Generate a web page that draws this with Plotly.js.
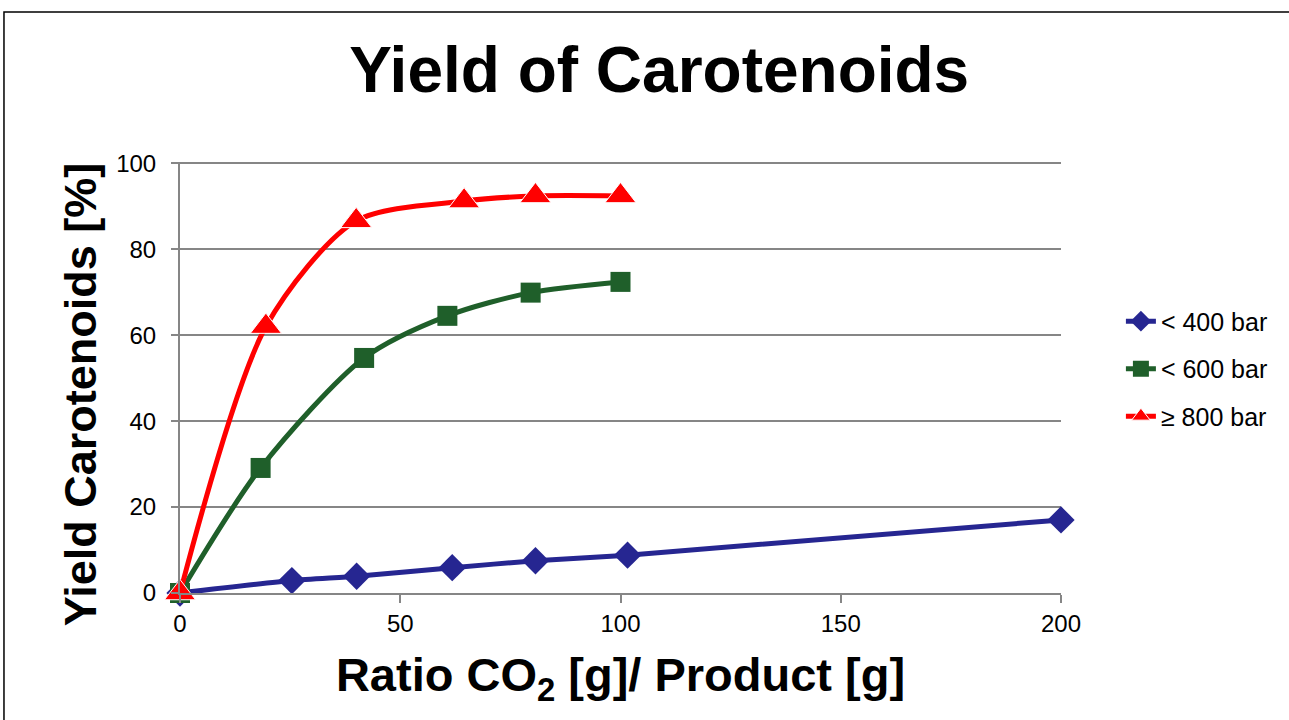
<!DOCTYPE html>
<html><head><meta charset="utf-8">
<script src="https://cdn.plot.ly/plotly-3.0.1.min.js"></script>
<style>html,body{margin:0;padding:0;background:#fff;}#chart{width:1289px;height:720px;}</style>
</head><body><div id="chart"></div>
<script>
const seriesNames = ["< 400 bar", "< 600 bar", "≥ 800 bar"];
const x400 = [0, 25.4, 40.1, 61.8, 80.7, 101.6, 200];
const y400 = [0, 2.9, 3.9, 5.9, 7.5, 8.8, 17.0];
const x600 = [0, 18.3, 41.8, 60.7, 79.6, 100];
const y600 = [0, 29.1, 54.7, 64.5, 69.9, 72.4];
const x800 = [0, 19.5, 40.0, 64.5, 80.7, 100];
const y800 = [0, 62.0, 86.6, 91.2, 92.4, 92.4];
const xTicks = [0, 50, 100, 150, 200];
const yTicks = [0, 20, 40, 60, 80, 100];
const xTitle = "<b>Ratio CO<sub>2</sub> [g]/ Product [g]</b>";
const yTitle = "<b>Yield Carotenoids [%]</b>";
const chartTitle = "<b>Yield of Carotenoids</b>";

const FONT = "Liberation Sans, Arial, sans-serif";
const traces = [
  {x: x400, y: y400, name: seriesNames[0], legendgroup: "a", mode: "lines+markers", cliponaxis: false,
   line: {color: "#262691", width: 5, shape: "spline", smoothing: 0.6},
   marker: {symbol: "diamond", size: 21, color: "#262691"}},
  {x: x600, y: y600, name: seriesNames[1], legendgroup: "b", mode: "lines+markers", cliponaxis: false,
   line: {color: "#1f5f2a", width: 5, shape: "spline", smoothing: 0.8},
   marker: {symbol: "square", size: 20, color: "#1f5f2a"}},
  {x: x800, y: y800, name: seriesNames[2], legendgroup: "c", mode: "lines+markers", cliponaxis: false,
   line: {color: "#ff0000", width: 5, shape: "spline", smoothing: 0.8},
   marker: {symbol: "triangle-up", size: 27, color: "#ff0000", line: {color: "#ffffff", width: 1}}}
];

const layout = {
  width: 1289, height: 720,
  margin: {l: 180, r: 228, t: 162, b: 127},
  paper_bgcolor: "#ffffff", plot_bgcolor: "#ffffff",
  font: {family: FONT, color: "#000000", size: 24},
  title: {text: chartTitle, font: {family: FONT, size: 64, color: "#000"},
          xref: "paper", x: 0.544, xanchor: "center", yref: "container", y: 0.903, yanchor: "middle"},
  xaxis: {range: [0, 200], tickvals: xTicks, ticktext: xTicks.map(String),
          showgrid: false, zeroline: false, showline: true, linecolor: "#868686", linewidth: 2,
          ticks: "outside", ticklen: 8, tickcolor: "#868686", tickwidth: 2,
          tickfont: {family: FONT, size: 24, color: "#000"},
          title: {text: xTitle, font: {family: FONT, size: 47, color: "#000"}, standoff: 22}},
  yaxis: {range: [0, 100.3], tickvals: yTicks, ticktext: yTicks.map(String),
          showgrid: true, gridcolor: "#868686", gridwidth: 2, zeroline: false,
          showline: true, linecolor: "#868686", linewidth: 2,
          ticks: "outside", ticklen: 7, tickcolor: "#868686", tickwidth: 2,
          ticklabelstandoff: 10,
          tickfont: {family: FONT, size: 24, color: "#000"}},
  annotations: [{text: yTitle, textangle: -90, xref: "paper", yref: "paper",
                 x: -0.1135, y: 0.459, xanchor: "center", yanchor: "middle", showarrow: false,
                 font: {family: FONT, size: 45, color: "#000"}}],
  legend: {x: 1.068, xanchor: "left", y: 0.52, yanchor: "middle", traceorder: "grouped",
           tracegroupgap: 12, font: {family: FONT, size: 25, color: "#000"}, bgcolor: "rgba(0,0,0,0)"},
  showlegend: true,
  shapes: [{type: "rect", xref: "paper", yref: "paper", x0: -0.1998, x1: 1.27, y0: -0.33, y1: 1.348,
            line: {color: "#000000", width: 1.5}, fillcolor: "rgba(0,0,0,0)", layer: "below"}]
};

Plotly.newPlot("chart", traces, layout, {displayModeBar: false, staticPlot: true});
</script>
</body></html>
